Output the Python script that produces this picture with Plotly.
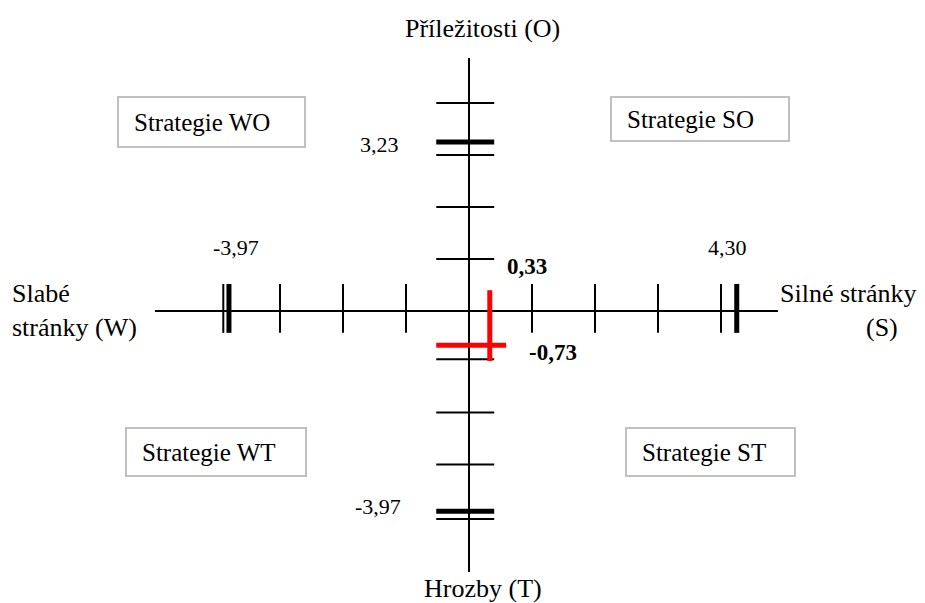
import plotly.graph_objects as go

# SWOT axis: tick positions (units), scores and result point
x_ticks = [-3.9, -3, -2, -1, 1, 2, 3, 4]
y_ticks = [4, 3, 2, 1, -0.93, -1.95, -2.95, -4]
x_scores = [-3.81, 4.25]          # W, S
x_score_labels = ["-3,97", "4,30"]
y_scores = [3.25, -3.85]          # O, T
y_score_labels = ["3,23", "-3,97"]
result_x = 0.33
result_y = -0.66
result_labels = ["0,33", "-0,73"]
quadrants = ["Strategie WO", "Strategie SO", "Strategie WT", "Strategie ST"]

# page geometry: centre of the cross in pixels and pixels per unit
W, H = 925, 603
CX, CY = 469, 311
XU, YU = 63, 52


def xd(px):
    return (px - CX) / XU


def yd(py):
    return (CY - py) / YU


def segs(pairs):
    xs, ys = [], []
    for (x0, y0), (x1, y1) in pairs:
        xs += [x0, x1, None]
        ys += [y0, y1, None]
    return xs, ys


FONT = "Liberation Serif, Times New Roman, serif"
fig = go.Figure()


def add_line(pairs, width, color="black"):
    xs, ys = segs(pairs)
    fig.add_trace(go.Scatter(x=xs, y=ys, mode="lines", hoverinfo="skip",
                             line=dict(color=color, width=width), showlegend=False))


# main axes
add_line([((xd(155), 0), (xd(778), 0)), ((0, yd(58)), (0, yd(572)))], 2)

# thin ticks
add_line([((x, 0.52), (x, -0.42)) for x in x_ticks], 2)
add_line([((-0.52, y), (0.40, y)) for y in y_ticks], 2)

# score ticks (thick)
add_line([((x, 0.52), (x, -0.42)) for x in x_scores], 5)
add_line([((-0.52, y), (0.40, y)) for y in y_scores], 5)

# result cross (red)
add_line([((result_x, 0.40), (result_x, -0.96)),
          ((-0.52, result_y), (0.59, result_y))], 5, "#ff0000")

ann = []


def text(s, px, py, size, anchor="center", bold=False):
    ann.append(dict(x=xd(px), y=yd(py), xref="x", yref="y", text=f"<b>{s}</b>" if bold else s,
                    showarrow=False, xanchor=anchor, yanchor="middle",
                    font=dict(family=FONT, size=size, color="black")))


text("Příležitosti (O)", 482, 28, 26)
text("Hrozby (T)", 483, 588, 26)
text("Slabé<br>stránky (W)", 10, 310, 26, "left")
ann[-1]["align"] = "left"
text("Silné stránky", 778, 293, 26, "left")
text("(S)", 864, 327, 26, "left")

text(x_score_labels[0], 236, 247, 22)
text(x_score_labels[1], 727, 247, 22)
text(y_score_labels[0], 379, 144, 22)
text(y_score_labels[1], 378, 506, 22)
text(result_labels[0], 527, 266, 23, bold=True)
text(result_labels[1], 553, 352, 23, bold=True)

# quadrant boxes (pixel rectangles) with their labels
boxes = [(118, 97, 305, 147), (611, 97, 789, 141), (126, 428, 306, 476), (626, 428, 795, 476)]
shapes = []
for label, (x0, y0, x1, y1) in zip(quadrants, boxes):
    shapes.append(dict(type="rect", xref="x", yref="y", x0=xd(x0), x1=xd(x1), y0=yd(y0), y1=yd(y1),
                       line=dict(color="#c0c0c0", width=2), fillcolor="white", layer="below"))
    text(label, x0 + 14, (y0 + y1) / 2, 25, "left")

fig.update_layout(
    width=W, height=H,
    margin=dict(l=0, r=0, t=0, b=0),
    plot_bgcolor="white", paper_bgcolor="white",
    xaxis=dict(range=[xd(0), xd(W)], visible=False, fixedrange=True),
    yaxis=dict(range=[yd(H), yd(0)], visible=False, fixedrange=True),
    annotations=ann, shapes=shapes,
)

# drop the browser's default page margin so the figure fills the window
fig.write_html("out.html", config={"displayModeBar": False},
               post_script="document.body.style.margin='0';")
